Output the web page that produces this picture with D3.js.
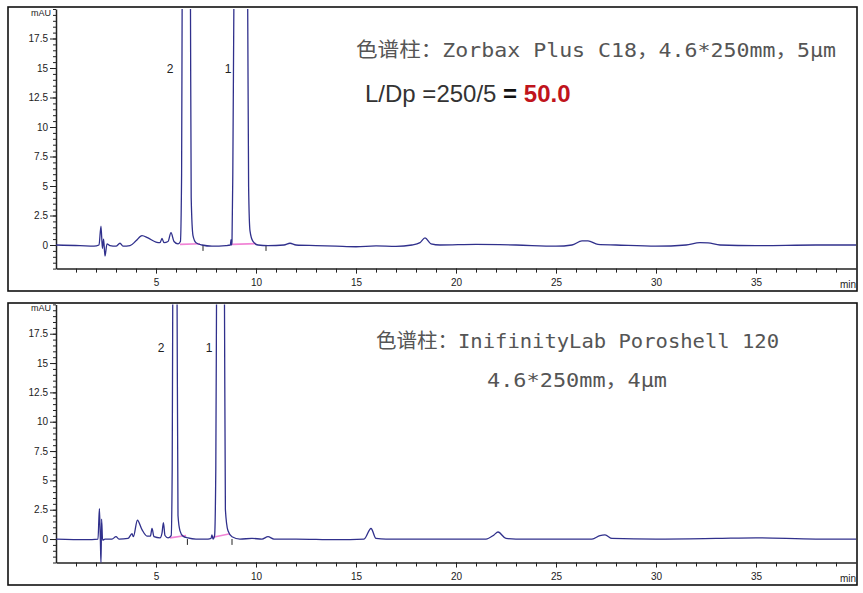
<!DOCTYPE html>
<html>
<head>
<meta charset="utf-8">
<script src="https://cdn.jsdelivr.net/npm/d3@7"></script>
<style>
  body { margin: 0; background: #fff; }
  svg { display: block; }
</style>
</head>
<body>
<svg id="chart" width="863" height="593"></svg>
<script>
// axis values
const xMajorTicks = [5, 10, 15, 20, 25, 30, 35]
const xMinorTicks = d3.range(1, 40)
const yMajorTicks = [0, 2.5, 5, 7.5, 10, 12.5, 15, 17.5]
const yMinorTicks = d3.range(-2, 20.01, 0.5)

// top chromatogram (Zorbax Plus C18), time in min, signal in mAU
const topTime = [0, 1.2, 1.9, 2.15, 2.25, 2.32, 2.38, 2.45, 2.55, 2.7, 3.0, 3.2, 3.35, 3.7, 4.0, 4.3, 4.6, 5.0, 5.2, 5.3, 5.4, 5.6, 5.75, 5.9, 6.1, 6.22, 6.28, 6.31, 6.5, 6.72, 6.76, 6.85, 7.0, 7.3, 7.8, 8.5, 8.72, 8.75, 8.78, 8.8, 8.84, 8.9, 9.25, 9.58, 9.63, 9.7, 9.85, 10.1, 10.6, 11.4, 11.7, 12.0, 13.0, 14.0, 15.0, 16.0, 17.0, 17.8, 18.2, 18.45, 18.75, 19.2, 21.0, 23.0, 25.0, 25.8, 26.3, 26.6, 27.1, 28.0, 30.0, 31.5, 32.2, 32.6, 33.2, 35.0, 38.0, 40.0]
const topSignal = [0, -0.05, -0.1, 0, 1.6, -0.3, 0.5, -0.95, 0.1, -0.05, -0.1, 0.15, -0.1, -0.05, 0.35, 0.8, 0.6, 0.25, 0.2, 0.55, 0.2, 0.3, 1.05, 0.3, 0.1, 0.3, 6, 22, 60, 22, 4, 0.8, 0.2, 0, -0.1, -0.05, 0, 0.45, 0, 0.3, 6, 22, 60, 22, 5, 1.2, 0.3, 0, -0.05, 0, 0.15, 0, -0.05, -0.1, -0.15, -0.08, -0.12, 0, 0.2, 0.6, 0.1, 0, 0.05, 0, -0.1, 0, 0.35, 0.35, 0.05, 0, -0.1, 0, 0.2, 0.18, 0, -0.05, 0, 0]
const topPeakNames = ['2', '1']
const topPeakLabelTime = [5.7, 8.6]
const topBaselines = [[6.2, 0.05, 7.2, 0.1], [8.8, 0.05, 10.0, 0.12]]
const topEvents = [7.35, 10.5]

// bottom chromatogram (InfinityLab Poroshell 120)
const bottomTime = [0, 1.5, 2.1, 2.17, 2.22, 2.25, 2.28, 2.33, 2.45, 2.8, 3.0, 3.15, 3.6, 3.8, 3.87, 4.07, 4.3, 4.55, 4.72, 4.8, 4.9, 5.2, 5.3, 5.37, 5.45, 5.6, 5.76, 5.81, 5.84, 5.93, 6.05, 6.1, 6.2, 6.35, 6.6, 7.0, 7.6, 7.75, 7.8, 7.85, 7.93, 7.99, 8.03, 8.22, 8.42, 8.47, 8.6, 8.8, 9.2, 9.8, 10.3, 10.6, 10.9, 12.0, 14.0, 15.4, 15.75, 16.0, 16.5, 18.0, 20.0, 21.5, 21.9, 22.1, 22.5, 23.0, 26.8, 27.2, 27.45, 27.8, 30.0, 33.0, 35.0, 38.0, 40.0]
const bottomSignal = [0, -0.05, 0, 2.6, -0.2, -2.1, 1.7, -0.1, 0, 0, 0.2, 0, 0.05, 0.45, 0.2, 1.6, 0.8, 0.25, 0.25, 0.9, 0.2, 0.1, 0.5, 1.4, 0.3, 0.1, 0.3, 6, 22, 60, 22, 2, 0.7, 0.25, 0.1, 0, 0, 0.05, 0.35, 0, 0.3, 6, 22, 60, 22, 2.5, 0.7, 0.2, 0, 0.05, 0, 0.2, 0, 0, -0.05, 0, 0.9, 0.05, 0, 0, 0, 0, 0.35, 0.6, 0.05, 0, 0, 0.3, 0.35, 0.05, 0, 0.05, 0.1, 0, 0]
const bottomPeakNames = ['2', '1']
const bottomPeakLabelTime = [5.25, 7.65]
const bottomBaselines = [[5.7, 0.1, 6.5, 0.3], [7.85, 0.15, 8.7, 0.45]]
const bottomEvents = [6.57, 8.8]

const svg = d3.select('#chart')
const traceColor = '#30308c'

function drawPanel (cfg) {
  const g = svg.append('g')

  // outer frame
  g.append('rect')
    .attr('x', cfg.frame[0]).attr('y', cfg.frame[1])
    .attr('width', cfg.frame[2] - cfg.frame[0])
    .attr('height', cfg.frame[3] - cfg.frame[1])
    .style('fill', '#fff').style('stroke', '#111').style('stroke-width', 1.6)

  const x = d3.scaleLinear().domain([0, 40]).range([cfg.left, cfg.right])
  const y = d3.scaleLinear().domain([-2, 20]).range([cfg.bottom, cfg.top])

  const clipId = 'clip' + cfg.id
  g.append('clipPath').attr('id', clipId)
    .append('rect')
    .attr('x', cfg.left).attr('y', cfg.top)
    .attr('width', cfg.right - cfg.left)
    .attr('height', cfg.bottom - cfg.top)

  // x axis: minor then labelled
  const xMinor = g.append('g')
    .attr('transform', `translate(0,${cfg.bottom})`)
    .call(d3.axisBottom(x).tickValues(xMinorTicks).tickSize(4).tickFormat('').tickSizeOuter(0))
  xMinor.select('.domain').style('stroke', '#222').style('stroke-width', 1.5)
  xMinor.selectAll('.tick line').style('stroke', '#222')

  const xMajor = g.append('g')
    .attr('transform', `translate(0,${cfg.bottom})`)
    .call(d3.axisBottom(x).tickValues(xMajorTicks).tickSize(5).tickPadding(5))
  xMajor.select('.domain').remove()
  xMajor.selectAll('.tick line').style('stroke', '#222')
  xMajor.selectAll('text')
    .style('font-family', 'Liberation Sans, Arial, sans-serif')
    .style('font-size', '10px').style('fill', '#222')

  g.append('text')
    .attr('x', cfg.right - 8).attr('y', cfg.bottom + 19)
    .attr('text-anchor', 'middle')
    .style('font-family', 'Liberation Sans, Arial, sans-serif')
    .style('font-size', '10px').style('fill', '#222')
    .text('min')

  // y axis
  const yMinor = g.append('g')
    .attr('transform', `translate(${cfg.left},0)`)
    .call(d3.axisLeft(y).tickValues(yMinorTicks).tickSize(3).tickFormat('').tickSizeOuter(0))
  yMinor.select('.domain').style('stroke', '#222').style('stroke-width', 1.5)
  yMinor.selectAll('.tick line').style('stroke', '#222')

  const yMajor = g.append('g')
    .attr('transform', `translate(${cfg.left},0)`)
    .call(d3.axisLeft(y).tickValues(yMajorTicks).tickSize(6).tickPadding(2).tickFormat(d => String(d)))
  yMajor.select('.domain').remove()
  yMajor.selectAll('.tick line').style('stroke', '#222')
  yMajor.selectAll('text')
    .style('font-family', 'Liberation Sans, Arial, sans-serif')
    .style('font-size', '10px').style('fill', '#222')

  g.append('text')
    .attr('x', cfg.left - 5).attr('y', y(19.4))
    .attr('text-anchor', 'end')
    .style('font-family', 'Liberation Sans, Arial, sans-serif')
    .style('font-size', '9px').style('fill', '#222')
    .text('mAU')

  const plot = g.append('g').attr('clip-path', `url(#${clipId})`)

  // integration baselines
  plot.selectAll('.bl').data(cfg.baselines).enter().append('line')
    .attr('x1', d => x(d[0])).attr('y1', d => y(d[1]))
    .attr('x2', d => x(d[2])).attr('y2', d => y(d[3]))
    .style('stroke', '#ee66cc').style('stroke-width', 1.6).style('opacity', 0.8)

  // peak end markers
  plot.selectAll('.ev').data(cfg.events).enter().append('line')
    .attr('x1', d => x(d)).attr('x2', d => x(d))
    .attr('y1', y(0)).attr('y2', y(-0.5))
    .style('stroke', '#222').style('stroke-width', 1)

  const pts = cfg.time.map((t, i) => [t, cfg.signal[i]])
  const line = d3.line()
    .x(d => x(d[0])).y(d => y(d[1]))
    .curve(d3.curveMonotoneX)
  plot.append('path')
    .datum(pts)
    .attr('d', line)
    .style('fill', 'none')
    .style('stroke', traceColor)
    .style('stroke-width', 1.3)

  // peak numbers
  g.selectAll('.pk').data(cfg.peakNames).enter().append('text')
    .attr('x', (d, i) => x(cfg.peakTimes[i]))
    .attr('y', y(cfg.peakLabelY))
    .attr('text-anchor', 'middle')
    .attr('dy', '0.35em')
    .style('font-family', 'Liberation Sans, Arial, sans-serif')
    .style('font-size', '12px').style('fill', '#222')
    .text(d => d)

  return g
}

drawPanel({
  id: 'top', frame: [8, 7, 857, 291],
  left: 56, right: 856, top: 9, bottom: 268.6,
  time: topTime, signal: topSignal,
  peakNames: topPeakNames, peakTimes: topPeakLabelTime, peakLabelY: 14.9,
  baselines: topBaselines, events: topEvents
})

drawPanel({
  id: 'bottom', frame: [8, 303, 857, 585],
  left: 56, right: 856, top: 304.4, bottom: 562.5,
  time: bottomTime, signal: bottomSignal,
  peakNames: bottomPeakNames, peakTimes: bottomPeakLabelTime, peakLabelY: 16.3,
  baselines: bottomBaselines, events: bottomEvents
})

// annotations
const cjkFont = '"DejaVu Sans Mono", "Noto Sans CJK SC", monospace'

svg.append('text')
  .attr('x', 356).attr('y', 57)
  .attr('textLength', 480).attr('lengthAdjust', 'spacingAndGlyphs')
  .style('font-family', cjkFont).style('font-size', '20px').style('fill', '#555')
  .text('色谱柱：Zorbax Plus C18，4.6*250mm，5μm')

const ld = svg.append('text')
  .attr('x', 365).attr('y', 102)
  .style('font-family', 'Liberation Sans, Arial, sans-serif').style('font-size', '24px')
ld.append('tspan').style('fill', '#333').text('L/Dp =250/5 ')
ld.append('tspan').style('fill', '#111').style('font-weight', 'bold').text('= ')
ld.append('tspan').style('fill', '#c0141c').style('font-weight', 'bold').text('50.0')

svg.append('text')
  .attr('x', 376).attr('y', 348)
  .attr('textLength', 403).attr('lengthAdjust', 'spacingAndGlyphs')
  .style('font-family', cjkFont).style('font-size', '20px').style('fill', '#555')
  .text('色谱柱：InifinityLab Poroshell 120')

svg.append('text')
  .attr('x', 487).attr('y', 387)
  .attr('textLength', 180).attr('lengthAdjust', 'spacingAndGlyphs')
  .style('font-family', cjkFont).style('font-size', '20px').style('fill', '#555')
  .text('4.6*250mm，4μm')
</script>
</body>
</html>
